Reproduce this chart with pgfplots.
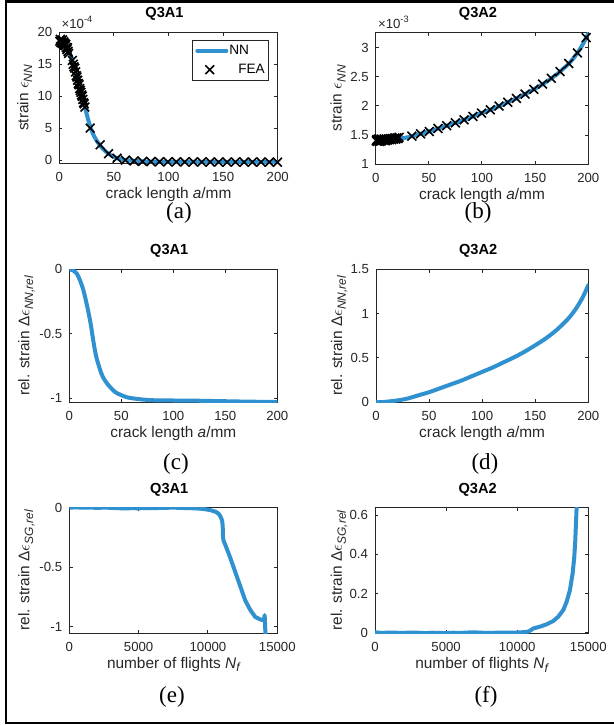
\documentclass[border=0pt]{standalone}
\usepackage{fontspec}
\setmainfont{Liberation Sans}
\newfontfamily\capfont{Liberation Serif}
\usepackage{pgfplots}
\pgfplotsset{compat=1.18}
\definecolor{nnblue}{RGB}{48,145,208}
\definecolor{axgray}{RGB}{38,38,38}
\newcommand{\tkfont}{\fontsize{6.6}{8}\selectfont}
\newcommand{\lbfont}{\fontsize{7.7}{9}\selectfont}
\newcommand{\lgfont}{\fontsize{6.8}{8}\selectfont}
\newcommand{\sbs}[1]{\raisebox{-0.25em}{\fontsize{6}{6}\selectfont\itshape #1}}
\newcommand{\eps}{$\epsilon$}
\pgfplotsset{
  myax/.style={
    scale only axis, anchor=south west,
    axis line style={axgray, line width=0.5pt},
    every tick/.style={axgray, line width=0.5pt},
    major tick length=1.6pt,
    tick align=inside,
    scaled ticks=false,
    tick label style={font=\tkfont, text=axgray},
    xticklabel style={anchor=base, yshift=-9pt},
    label style={font=\lbfont, text=axgray},
    xlabel style={at={(axis description cs:0.5,0)}, anchor=base, yshift=-17.5pt},
    title style={font=\fontsize{7.3}{8.8}\selectfont\bfseries, at={(axis description cs:0.5,1)}, anchor=base, yshift=1.3pt, xshift=-2pt},
  },
  nn/.style={color=nnblue, line width=2pt, line join=round, line cap=round, no markers},
  fea/.style={only marks, mark=x, mark size=3.1pt, mark options={black, line width=0.8pt}},
  nnleg/.style={legend image code/.code={\draw[##1] (0pt,0pt) -- (14.5pt,0pt);}},
  fealeg/.style={legend image code/.code={\draw[draw=none, fill=none] (0pt,0pt) rectangle (14.5pt,0.1pt); \draw[##1] plot coordinates {(6.2pt,0pt)};}},
}
\begin{document}
\begin{tikzpicture}
\useasboundingbox (0pt,0pt) rectangle (307pt,-362.5pt);
\draw[line width=1.15pt] (312pt,-0.8pt) -- (3.1pt,-0.8pt) -- (3.1pt,-361.5pt) -- (312pt,-361.5pt);

% (a)
\begin{axis}[myax, at={(29.65pt,-81.65pt)}, width=109.2pt, height=65.5pt,
  xmin=0, xmax=200, ymin=-0.5, ymax=20,
  xtick={0,50,100,150,200}, xticklabels={0,50,100,150,200},
  ytick={0,5,10,15,20}, yticklabels={0,5,10,15,20},
  title={Q3A1}, xlabel={crack length \textit{a}/mm},
  ylabel={strain \eps\sbs{NN}},
  ylabel style={at={(axis description cs:-0.142,0.5)}, anchor=base},
  legend style={at={(axis description cs:1,1)}, anchor=north east, xshift=-4.2pt, yshift=-3.7pt,
    draw=axgray, line width=0.5pt, font=\lgfont, text=black, inner xsep=1.5pt, inner ysep=0.5pt, row sep=0pt,
    nodes={inner xsep=0.5pt, inner ysep=1.5pt, text height=5.3pt, text depth=1.2pt}},
  legend cell align=left,
  extra description/.code={\node[anchor=base west, inner sep=0pt, font=\tkfont, text=axgray, xshift=1pt, yshift=1.8pt] at (0,1) {×10\textsuperscript{-4}};},
]
\addplot[nn, smooth, nnleg] coordinates {
(0,18.7) (3,18.55) (6,18.0) (9,17.0) (12,15.6) (14.5,14.3) (17,12.6) (20,10.7) (23,8.6) (26,6.6)
(29,4.9) (32,3.7) (36,2.6) (40,1.75) (45,1.0) (50,0.5) (55,0.2) (60,0.02) (70,-0.15) (80,-0.22)
(100,-0.27) (150,-0.3) (200,-0.32)};
\addlegendentry{NN}
\addplot[fea, fealeg] coordinates {
(0.5,18.6) (1.0,18.9) (1.5,18.4) (2.0,18.7) (2.5,18.3) (3.0,18.8) (3.5,18.2) (4.0,18.5) (4.5,18.0)
(5.0,18.3) (5.5,17.9) (6.0,18.1) (6.5,17.6) (7.0,17.3) (7.5,17.6) (8.0,17.0) (8.5,16.7)
(12.0,15.6) (12.8,15.0) (13.5,14.6) (14.2,14.4) (15.0,13.8) (15.6,13.2) (16.2,13.0) (16.8,12.5)
(17.4,12.0) (18.0,11.8) (18.6,11.2) (19.2,10.9) (19.8,10.6) (20.4,10.2) (21.0,10.0) (21.6,9.5)
(22.2,9.0) (22.8,8.8) (23.4,8.3)
(28.3,5.0) (37.4,2.4) (45.1,1.0) (52.9,0.3) (60.6,0.0) (68.4,-0.13) (76.2,-0.2) (83.9,-0.23)
(91.7,-0.25) (99.4,-0.27) (107.2,-0.27) (114.9,-0.28) (122.7,-0.28) (130.4,-0.29) (138.2,-0.29)
(145.9,-0.3) (153.7,-0.3) (161.4,-0.3) (169.2,-0.31) (176.9,-0.31) (184.7,-0.31) (192.4,-0.32) (199.8,-0.32)};
\addlegendentry{\hspace{4.5pt}FEA}
\end{axis}

% (b)
\begin{axis}[myax, at={(187.85pt,-82pt)}, width=106.3pt, height=65.85pt,
  xmin=0, xmax=200, ymin=1, ymax=3.27,
  xtick={0,50,100,150,200}, xticklabels={0,50,100,150,200},
  ytick={1,1.5,2,2.5,3}, yticklabels={1,1.5,2,2.5,3},
  title={Q3A2}, xlabel={crack length \textit{a}/mm},
  ylabel={strain \eps\sbs{NN}},
  ylabel style={at={(axis description cs:-0.16,0.5)}, anchor=base},
  extra description/.code={\node[anchor=base west, inner sep=0pt, font=\tkfont, text=axgray, xshift=1pt, yshift=1.8pt] at (0,1) {×10\textsuperscript{-3}};},
]
\addplot[nn, smooth] coordinates {
(0,1.40) (5,1.402) (10,1.41) (15,1.42) (20,1.43) (25,1.445) (30,1.46) (40,1.51) (50,1.56) (60,1.62)
(70,1.68) (80,1.74) (90,1.81) (100,1.88) (110,1.95) (120,2.03) (130,2.11) (140,2.20) (150,2.30)
(160,2.41) (170,2.54) (180,2.70) (185,2.80) (190,2.92) (195,3.07) (200,3.25)};
\addplot[fea] coordinates {
(0.5,1.40) (1,1.42) (1.5,1.39) (2,1.41) (2.5,1.43) (3,1.40) (3.5,1.42) (4,1.39) (4.5,1.41) (5,1.43)
(5.5,1.40) (6,1.42) (7,1.41) (8,1.43) (9,1.40) (10,1.42) (11,1.41) (12,1.43) (13,1.42) (14,1.44)
(15,1.42) (16,1.44) (17,1.43) (18,1.45) (19,1.43) (20,1.45) (21,1.44) (22,1.46)
(34,1.48) (42.2,1.52) (50.4,1.56) (58.6,1.612) (66.8,1.66) (75,1.71) (83.2,1.762) (91.4,1.82)
(99.6,1.877) (107.8,1.935) (116,1.998) (124.2,2.064) (132.4,2.132) (140.6,2.206) (148.8,2.288)
(157,2.377) (165.2,2.478) (173.4,2.594) (181.6,2.732) (189.8,2.915) (198,3.178)};
\end{axis}

% (c)
\begin{axis}[myax, at={(34.65pt,-201.15pt)}, width=104pt, height=66.5pt,
  xmin=0, xmax=200, ymin=-1.03, ymax=0,
  xtick={0,50,100,150,200}, xticklabels={0,50,100,150,200},
  ytick={-1,-0.5,0}, yticklabels={-1,-0.5,0},
  title={Q3A1}, xlabel={crack length \textit{a}/mm},
  ylabel={rel. strain Δ\eps\sbs{NN,rel}},
  ylabel style={at={(axis description cs:-0.192,0.5)}, anchor=base},
]
\addplot[nn, smooth] coordinates {
(0,0) (4,-0.01) (7,-0.03) (10,-0.08) (13.5,-0.16) (17.3,-0.29) (20.5,-0.42) (23,-0.55) (26,-0.68)
(31,-0.81) (35,-0.87) (39,-0.91) (44,-0.95) (48.7,-0.97) (55,-0.99) (61.5,-1.0) (77.6,-1.013)
(100,-1.016) (125.6,-1.018) (157.7,-1.023) (200,-1.028)};
\end{axis}

% (d)
\begin{axis}[myax, at={(188pt,-201.15pt)}, width=106.15pt, height=66.5pt,
  xmin=0, xmax=200, ymin=0, ymax=1.5,
  xtick={0,50,100,150,200}, xticklabels={0,50,100,150,200},
  ytick={0,0.5,1,1.5}, yticklabels={0,0.5,1,1.5},
  title={Q3A2}, xlabel={crack length \textit{a}/mm},
  ylabel={rel. strain Δ\eps\sbs{NN,rel}},
  ylabel style={at={(axis description cs:-0.16,0.5)}, anchor=base},
]
\addplot[nn, smooth] coordinates {
(0,0) (5,0.002) (10,0.007) (15,0.013) (20,0.021) (25,0.031) (30,0.043) (40,0.079) (50,0.114)
(60,0.157) (70,0.2) (80,0.243) (90,0.293) (100,0.343) (110,0.393) (120,0.45) (130,0.507)
(140,0.571) (150,0.643) (160,0.721) (170,0.814) (180,0.929) (185,1.0) (190,1.086) (195,1.19) (200,1.321)};
\end{axis}

% (e)
\begin{axis}[myax, at={(34.65pt,-316.5pt)}, width=104pt, height=62.65pt,
  xmin=0, xmax=15000, ymin=-1.055, ymax=0,
  xtick={0,5000,10000,15000}, xticklabels={0,5000,10000,15000},
  ytick={-1,-0.5,0}, yticklabels={-1,-0.5,0},
  title={Q3A1}, xlabel={number of flights \textit{N}\sbs{f}},
  ylabel={rel. strain Δ\eps\sbs{SG,rel}},
  ylabel style={at={(axis description cs:-0.192,0.5)}, anchor=base},
]
\addplot[nn] coordinates {
(0,0) (500,0.003) (1000,0.0) (1500,0.002) (2000,-0.002) (2500,0.001) (3000,-0.001) (3500,-0.004)
(4000,-0.006) (4500,-0.004) (5000,-0.005) (5500,-0.003) (6000,-0.004) (6500,-0.002) (7000,-0.001)
(7500,0.001) (8000,-0.002) (8500,-0.003) (9000,-0.005) (9437,-0.008) (9800,-0.013) (10158,-0.02)
(10450,-0.03) (10643,-0.04) (10800,-0.055) (10881,-0.07) (10960,-0.09) (11025,-0.11) (11060,-0.15)
(11075,-0.2) (11085,-0.25) (11130,-0.28) (11242,-0.31) (11603,-0.42) (11964,-0.54) (12325,-0.66)
(12686,-0.78) (13047,-0.86) (13408,-0.92) (13769,-0.94) (13962,-0.947) (14050,-0.95) (14082,-0.904)
(14100,-0.93) (14110,-0.96) (14130,-1.0) (14140,-1.2)};
\end{axis}

% (f)
\begin{axis}[myax, at={(187.5pt,-316.65pt)}, width=106.65pt, height=62.8pt,
  xmin=0, xmax=15000, ymin=-0.003, ymax=0.638,
  xtick={0,5000,10000,15000}, xticklabels={0,5000,10000,15000},
  ytick={0,0.2,0.4,0.6}, yticklabels={0,0.2,0.4,0.6},
  title={Q3A2}, xlabel={number of flights \textit{N}\sbs{f}},
  ylabel={rel. strain Δ\eps\sbs{SG,rel}},
  ylabel style={at={(axis description cs:-0.155,0.5)}, anchor=base},
]
\addplot[nn] coordinates {
(0,0.002) (500,-0.001) (1000,0.001) (1500,0.0) (2000,-0.001) (2500,0.001) (3000,0.0) (3500,-0.002)
(4000,0.0) (4500,-0.001) (5000,-0.002) (5500,0.0) (6000,-0.001) (6500,0.001) (7000,0.002) (7500,0.0)
(8000,-0.001) (8500,0.0) (9000,0.001) (9500,0.0) (10000,0.001) (10500,0.003) (10800,0.006)
(11000,0.015) (11133,0.022) (11602,0.031) (12070,0.043) (12539,0.06) (12890,0.082) (13242,0.116)
(13477,0.158) (13711,0.218) (13898,0.303) (14016,0.388) (14086,0.473) (14133,0.558) (14180,0.64) (14200,0.7)};
\end{axis}

\node[font=\capfont\fontsize{11.5}{13}\selectfont] at (89.5pt,-106.5pt) {(a)};
\node[font=\capfont\fontsize{11.5}{13}\selectfont] at (239pt,-106.5pt) {(b)};
\node[font=\capfont\fontsize{11.5}{13}\selectfont] at (88pt,-232pt) {(c)};
\node[font=\capfont\fontsize{11.5}{13}\selectfont] at (242.5pt,-232pt) {(d)};
\node[font=\capfont\fontsize{11.5}{13}\selectfont] at (86pt,-348.5pt) {(e)};
\node[font=\capfont\fontsize{11.5}{13}\selectfont] at (243pt,-348.5pt) {(f)};
\end{tikzpicture}
\end{document}
